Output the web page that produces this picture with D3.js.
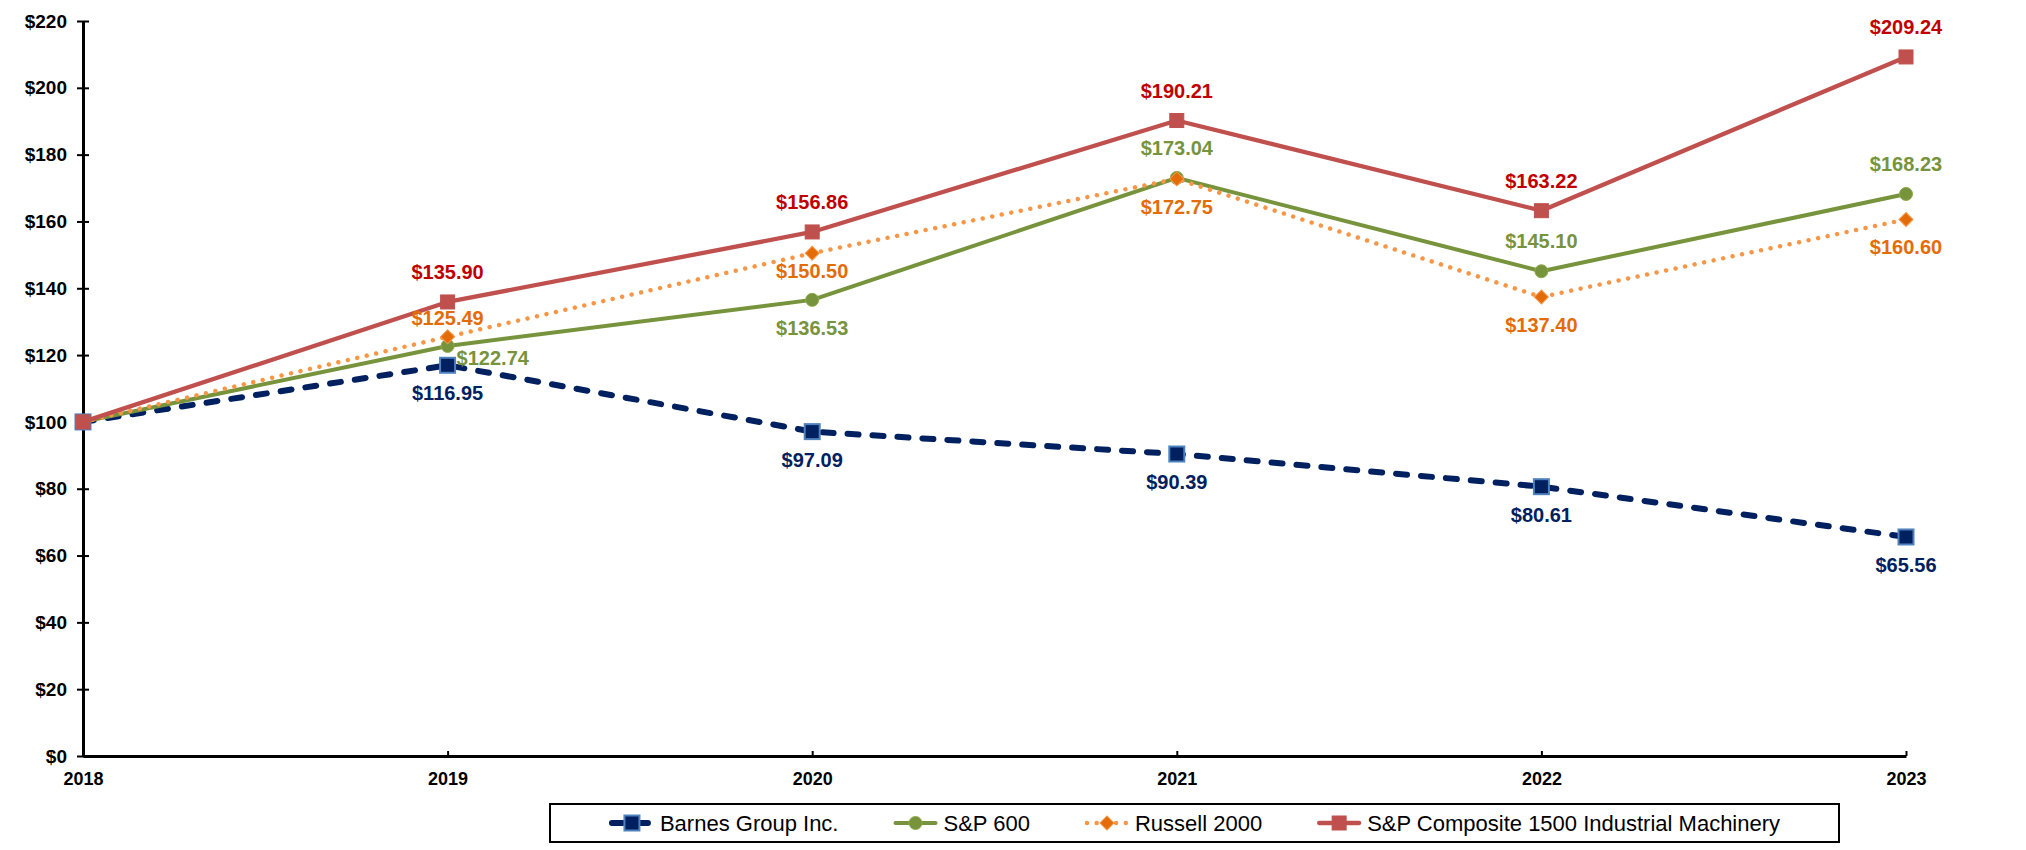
<!DOCTYPE html>
<html>
<head>
<meta charset="utf-8">
<script src="https://cdn.jsdelivr.net/npm/d3@7"></script>
<style>
  body { margin: 0; background: #fff; }
  svg { display: block; font-family: "Liberation Sans", Arial, sans-serif; }
</style>
</head>
<body>
<div id="chart"></div>
<script>
// Values of a $100 investment, 2018 base year
const years = [2018, 2019, 2020, 2021, 2022, 2023];
const seriesNames = ["Barnes Group Inc.", "S&P 600", "Russell 2000", "S&P Composite 1500 Industrial Machinery"];
const barnesValues = [100, 116.95, 97.09, 90.39, 80.61, 65.56];
const sp600Values = [100, 122.74, 136.53, 173.04, 145.10, 168.23];
const russellValues = [100, 125.49, 150.50, 172.75, 137.40, 160.60];
const compositeValues = [100, 135.90, 156.86, 190.21, 163.22, 209.24];
const yTickValues = [0, 20, 40, 60, 80, 100, 120, 140, 160, 180, 200, 220];

// where each data label sits relative to its marker (no label on the base year)
const barnesPlace = [null, "below", "below", "below", "below", "below"];
const sp600Place = [null, "right", "below", "above", "above", "above"];
const russellPlace = [null, "aboveNear", "belowNear", "below", "below", "below"];
const compositePlace = [null, "above", "above", "above", "above", "above"];

const width = 2026, height = 850;
const margin = { top: 21, right: 120, bottom: 94, left: 83 };

const svg = d3.select("#chart").append("svg")
    .attr("width", width)
    .attr("height", height);

const x = d3.scaleLinear().domain([years[0], years[years.length - 1]]).range([margin.left, width - margin.right]);
const y = d3.scaleLinear().domain([0, 220]).range([height - margin.bottom, margin.top]);

// series styles, in drawing order (last one on top)
const series = [
    { name: seriesNames[0], values: barnesValues, place: barnesPlace, line: "#002060", lineWidth: 6, dash: "11 14",
      marker: "square", markerSize: 15, fill: "#002060", stroke: "#4F81BD", strokeWidth: 2, label: "#002060" },
    { name: seriesNames[1], values: sp600Values, place: sp600Place, line: "#77933C", lineWidth: 4, dash: null,
      marker: "circle", markerSize: 13, fill: "#77933C", stroke: "#8DAA4A", strokeWidth: 1, label: "#77933C" },
    { name: seriesNames[2], values: russellValues, place: russellPlace, line: "#F79646", lineWidth: 4.5, dash: "0.01 9.7",
      marker: "diamond", markerSize: 14, fill: "#E36C09", stroke: "#F79646", strokeWidth: 1, label: "#E36C09" },
    { name: seriesNames[3], values: compositeValues, place: compositePlace, line: "#C0504D", lineWidth: 4.3, dash: null,
      marker: "square", markerSize: 14, fill: "#C0504D", stroke: "#C0504D", strokeWidth: 1, label: "#C00000" }
];

// x axis (drawn first so the y axis sits on top at the corner)
const xAxis = svg.append("g")
    .attr("transform", `translate(0,${y(0)})`)
    .call(d3.axisBottom(x).tickValues(years).tickFormat(d3.format("d"))
        .tickSizeOuter(0).tickSizeInner(-5).tickPadding(16));
xAxis.attr("font-family", null).attr("font-size", 18).attr("font-weight", "bold");
xAxis.select(".domain").attr("stroke", "#000").attr("stroke-width", 3);
xAxis.selectAll(".tick line").attr("stroke", "#000").attr("stroke-width", 2);
xAxis.selectAll(".tick text").attr("fill", "#000");

// y axis, ticks cross the line
const yAxis = svg.append("g")
    .attr("transform", `translate(${margin.left},0)`)
    .call(d3.axisLeft(y).tickValues(yTickValues).tickFormat(d => "$" + d)
        .tickSizeOuter(0).tickSizeInner(5).tickPadding(11));
yAxis.attr("font-family", null).attr("font-size", 19).attr("font-weight", "bold");
yAxis.select(".domain").attr("stroke", "#000").attr("stroke-width", 3);
yAxis.selectAll(".tick line").attr("x1", 6).attr("x2", -6).attr("stroke", "#000").attr("stroke-width", 2);
yAxis.selectAll(".tick text").attr("fill", "#000");

const line = d3.line().x((d, i) => x(years[i])).y(d => y(d));

function drawMarker(g, s, cx, cy) {
    const m = s.markerSize;
    let el;
    if (s.marker === "circle") {
        el = g.append("circle").attr("cx", cx).attr("cy", cy).attr("r", m / 2);
    } else if (s.marker === "diamond") {
        el = g.append("rect").attr("x", cx - m / 2.83).attr("y", cy - m / 2.83)
            .attr("width", m / 1.414).attr("height", m / 1.414)
            .attr("transform", `rotate(45,${cx},${cy})`);
    } else {
        el = g.append("rect").attr("x", cx - m / 2).attr("y", cy - m / 2).attr("width", m).attr("height", m);
    }
    el.attr("fill", s.fill).attr("stroke", s.stroke).attr("stroke-width", s.strokeWidth);
}

// lines and markers
series.forEach(s => {
    const g = svg.append("g");
    g.append("path")
        .datum(s.values)
        .attr("d", line)
        .attr("fill", "none")
        .attr("stroke", s.line)
        .attr("stroke-width", s.lineWidth)
        .attr("stroke-linecap", "round")
        .attr("stroke-linejoin", "round")
        .attr("stroke-dasharray", s.dash);
    s.values.forEach((v, i) => drawMarker(g, s, x(years[i]), y(v)));
});

// data labels
const labelOffset = {
    above: { dx: 0, dy: -30, anchor: "middle" },
    below: { dx: 0, dy: 28, anchor: "middle" },
    aboveNear: { dx: 0, dy: -19, anchor: "middle" },
    belowNear: { dx: 0, dy: 18, anchor: "middle" },
    right: { dx: 9, dy: 12, anchor: "start" }
};
const fmt = d3.format(".2f");
series.forEach(s => {
    s.values.forEach((v, i) => {
        if (!s.place[i]) return;
        const o = labelOffset[s.place[i]];
        svg.append("text")
            .attr("x", x(years[i]) + o.dx)
            .attr("y", y(v) + o.dy)
            .attr("text-anchor", o.anchor)
            .attr("dominant-baseline", "central")
            .attr("font-size", 20)
            .attr("font-weight", "bold")
            .attr("fill", s.label)
            .text("$" + fmt(v));
    });
});

// legend
const legendBox = { x: 550, y: 804, w: 1289, h: 38 };
const legend = svg.append("g");
legend.append("rect")
    .attr("x", legendBox.x).attr("y", legendBox.y)
    .attr("width", legendBox.w).attr("height", legendBox.h)
    .attr("fill", "#fff").attr("stroke", "#000").attr("stroke-width", 2);

const symW = 46, symGap = 5, itemGap = 54;
const cy = legendBox.y + legendBox.h / 2;
const items = series.map(s => {
    const g = legend.append("g");
    const t = g.append("text")
        .attr("x", symW + symGap)
        .attr("y", cy)
        .attr("dominant-baseline", "central")
        .attr("font-size", 22)
        .attr("fill", "#000")
        .text(s.name);
    return { g, s, w: symW + symGap + t.node().getComputedTextLength() };
});
const total = d3.sum(items, d => d.w) + itemGap * (items.length - 1);
let cursor = legendBox.x + (legendBox.w - total) / 2;
items.forEach(({ g, s, w }) => {
    g.attr("transform", `translate(${cursor},0)`);
    g.insert("line", "text")
        .attr("x1", 3).attr("x2", symW - 3)
        .attr("y1", cy).attr("y2", cy)
        .attr("stroke", s.line)
        .attr("stroke-width", s.lineWidth)
        .attr("stroke-linecap", "round")
        .attr("stroke-dasharray", s.dash);
    drawMarker(g, s, symW / 2, cy);
    cursor += w + itemGap;
});
</script>
</body>
</html>
